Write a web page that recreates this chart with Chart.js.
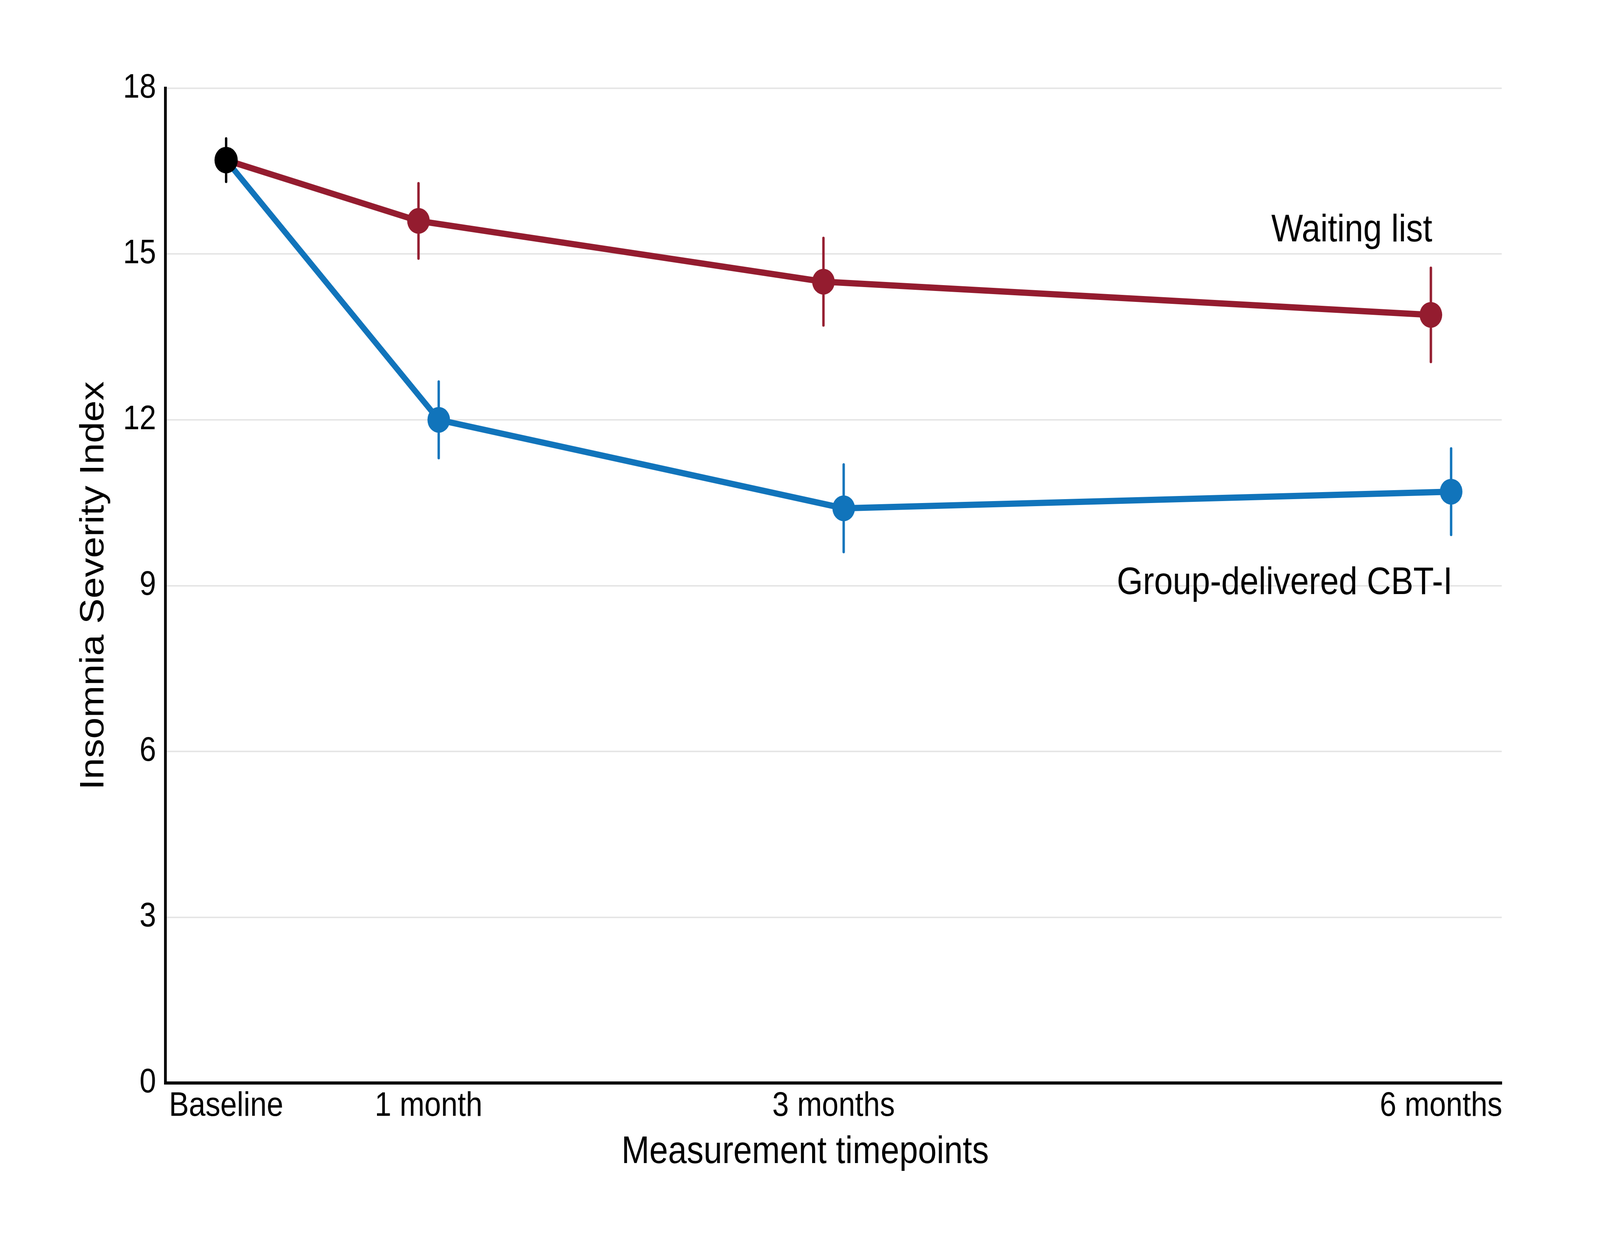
<!DOCTYPE html>
<html>
<head>
<meta charset="utf-8">
<script src="https://cdn.jsdelivr.net/npm/chart.js@4.4.1/dist/chart.umd.min.js"></script>
<style>
	html, body { margin: 0; padding: 0; background: #fff; overflow: hidden; }
</style>
</head>
<body>
<!-- drawn at 4673 x 3175, then fitted to the window -->
<canvas id="chart" width="4673" height="3175" style="display:block;width:100vw;height:100vh"></canvas>
<script>
// months since baseline
const timepoints = [0, 1, 3, 6];
const tickLabels = ['Baseline', '1 month', '3 months', '6 months'];

// first value is the shared baseline
const waitingMean = [16.7, 15.6, 14.5, 13.9];
const waitingErr = [0.39, 0.68, 0.79, 0.85];
const cbtMean = [16.7, 12.0, 10.4, 10.7];
const cbtErr = [0.39, 0.69, 0.79, 0.78];

// groups are nudged apart a little on the x axis
const dodge = 0.05;

const labels = [
	{ text: 'Waiting list', series: 0, y: 15.23 },
	{ text: 'Group-delivered CBT-I', series: 1, y: 8.85 },
];

const red = '#941c2f';
const blue = '#1174bb';
const font = '"Liberation Sans", Arial, sans-serif';

function points(means, shift) {
	return timepoints.map((t, i) => ({ x: i === 0 ? t : t + shift, y: means[i] }));
}

const errorBars = {
	id: 'errorBars',
	beforeDatasetsDraw(chart) {
		const ctx = chart.ctx;
		const xs = chart.scales.x;
		const ys = chart.scales.y;
		ctx.save();
		ctx.lineWidth = 7;
		ctx.lineCap = 'round';
		chart.data.datasets.forEach((ds) => {
			ds.data.forEach((p, i) => {
				const e = ds.errors[i];
				if (e == null) return;
				const x = xs.getPixelForValue(p.x);
				ctx.strokeStyle = ds.errorColors[i];
				ctx.beginPath();
				ctx.moveTo(x, ys.getPixelForValue(p.y + e));
				ctx.lineTo(x, ys.getPixelForValue(p.y - e));
				ctx.stroke();
			});
		});
		ctx.restore();
	},
};

const textLabels = {
	id: 'textLabels',
	afterDraw(chart) {
		const ctx = chart.ctx;
		const xs = chart.scales.x;
		const ys = chart.scales.y;
		ctx.save();
		ctx.fillStyle = '#000';
		ctx.font = '98px ' + font;
		ctx.textAlign = 'right';
		ctx.textBaseline = 'alphabetic';
		labels.forEach((l) => {
			const data = chart.data.datasets[l.series].data;
			const last = data[data.length - 1];
			ctx.fillText(l.text, xs.getPixelForValue(last.x) + 4, ys.getPixelForValue(l.y));
		});
		// x axis title, centred on the whole figure
		ctx.textAlign = 'center';
		ctx.textBaseline = 'middle';
		ctx.fillText('Measurement timepoints', chart.width / 2 + 15, xs.top + 178);
		ctx.restore();
	},
};

function chartIt() {
	const ctx = document.getElementById('chart').getContext('2d');
	const myChart = new Chart(ctx, {
		type: 'line',
		data: {
			datasets: [
				{
					label: 'Waiting list',
					data: points(waitingMean, -dodge),
					errors: [null, ...waitingErr.slice(1)],
					errorColors: waitingErr.map(() => red),
					borderColor: red,
					backgroundColor: red,
					borderWidth: 16,
					pointRadius: [0, 33, 33, 33],
					pointBorderWidth: 0,
					pointBackgroundColor: red,
					tension: 0,
					order: 2,
				},
				{
					label: 'Group-delivered CBT-I',
					data: points(cbtMean, dodge),
					errors: [null, ...cbtErr.slice(1)],
					errorColors: cbtErr.map(() => blue),
					borderColor: blue,
					backgroundColor: blue,
					borderWidth: 16,
					pointRadius: [0, 33, 33, 33],
					pointBorderWidth: 0,
					pointBackgroundColor: blue,
					tension: 0,
					order: 1,
				},
				{
					label: 'Baseline',
					data: [{ x: timepoints[0], y: waitingMean[0] }],
					errors: [waitingErr[0]],
					errorColors: ['#000'],
					showLine: false,
					pointRadius: 34,
					pointBorderWidth: 0,
					pointBackgroundColor: '#000',
					order: 0,
				},
			],
		},
		options: {
			responsive: false,
			devicePixelRatio: 1,
			animation: false,
			layout: {
				padding: { top: 226, right: 287, bottom: 290, left: 0 },
			},
			plugins: {
				legend: { display: false },
				tooltip: { enabled: false },
			},
			scales: {
				x: {
					type: 'linear',
					min: -0.3,
					max: 6.3,
					afterBuildTicks: (scale) => {
						scale.ticks = timepoints.map((v) => ({ value: v }));
					},
					afterFit: (scale) => {
						scale.height = 112;
					},
					ticks: {
						autoSkip: false,
						maxRotation: 0,
						padding: 8,
						color: '#000',
						font: { family: font, size: 87 },
						callback: (v) => tickLabels[timepoints.indexOf(v)],
					},
					grid: { display: false, drawTicks: false },
					border: { display: true, color: '#000', width: 8 },
				},
				y: {
					min: 0,
					max: 18,
					afterFit: (scale) => {
						scale.width = 483;
					},
					ticks: {
						stepSize: 3,
						padding: 27,
						color: '#000',
						font: { family: font, size: 87 },
					},
					grid: { color: '#e6e6e6', lineWidth: 4, drawTicks: false },
					border: { display: true, color: '#000', width: 8 },
					title: {
						display: true,
						text: 'Insomnia Severity Index',
						color: '#000',
						font: { family: font, size: 98 },
						padding: { top: 216, bottom: 0 },
					},
				},
			},
		},
		plugins: [errorBars, textLabels],
	});
}

chartIt();
</script>
</body>
</html>
